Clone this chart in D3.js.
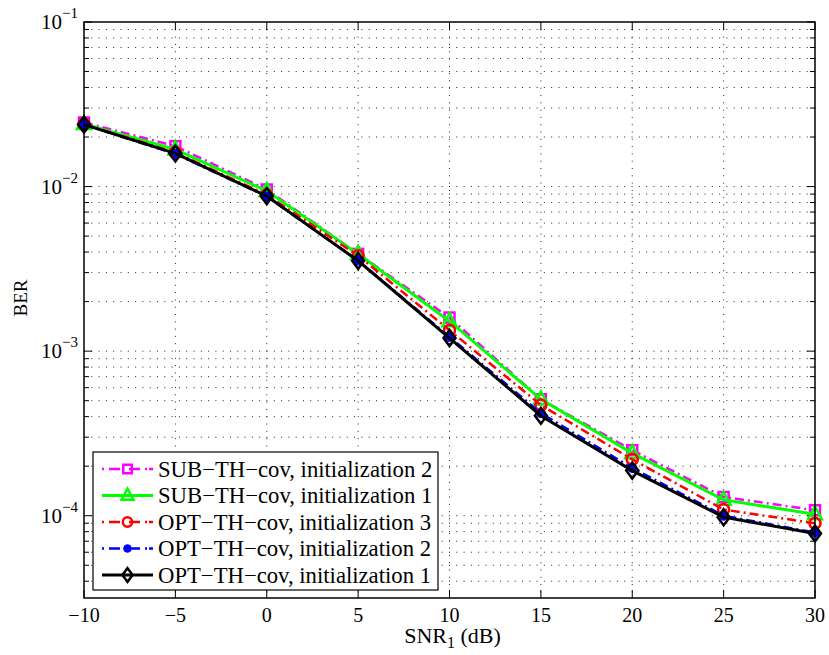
<!DOCTYPE html>
<html>
<head>
<meta charset="utf-8">
<script src="https://cdn.jsdelivr.net/npm/d3@7"></script>
<style>
  body { margin:0; background:#fff; }
  svg text { font-family: "Liberation Serif", "Times New Roman", serif; fill:#000; }
</style>
</head>
<body>
<div id="chart"></div>
<script>
// BER vs SNR1 - d3 log plot

var snr = [-10, -5, 0, 5, 10, 15, 20, 25, 30];
var xTicks = [-10, -5, 0, 5, 10, 15, 20, 25, 30];
var yMajor = [1e-1, 1e-2, 1e-3, 1e-4];

var subInit2 = [0.0245, 0.0176, 0.0096, 0.0039, 0.00160, 5.1e-4, 2.5e-4, 1.3e-4, 1.08e-4];
var subInit1 = [0.0240, 0.0168, 0.0094, 0.0039, 0.00152, 5.1e-4, 2.4e-4, 1.25e-4, 1.02e-4];
var optInit3 = [0.0240, 0.0161, 0.0089, 0.0038, 0.00134, 4.7e-4, 2.2e-4, 1.09e-4, 9.0e-5];
var optInit2 = [0.0238, 0.0158, 0.0087, 0.00355, 0.00122, 4.2e-4, 1.95e-4, 1.0e-4, 7.9e-5];
var optInit1 = [0.0238, 0.0159, 0.00875, 0.00354, 0.00120, 4.05e-4, 1.88e-4, 9.8e-5, 7.8e-5];

var seriesNames = ["SUB\u2212TH\u2212cov, initialization 2", "SUB\u2212TH\u2212cov, initialization 1",
  "OPT\u2212TH\u2212cov, initialization 3", "OPT\u2212TH\u2212cov, initialization 2",
  "OPT\u2212TH\u2212cov, initialization 1"];

var series = [
  {name: seriesNames[0], values: subInit2, color: "#ff00ff", dash: "9,4,2,4", width: 2.5, marker: "square"},
  {name: seriesNames[1], values: subInit1, color: "#00ff00", dash: null, width: 3, marker: "triangle"},
  {name: seriesNames[2], values: optInit3, color: "#ff0000", dash: "9,4,2,4", width: 2.5, marker: "circle"},
  {name: seriesNames[3], values: optInit2, color: "#0000ff", dash: "9,4,2,4", width: 2.5, marker: "dot"},
  {name: seriesNames[4], values: optInit1, color: "#000000", dash: null, width: 3, marker: "diamond"}
];

var W = 829, H = 655;
var margin = {top:22, left:84, right:14, bottom:57};
var pw = W - margin.left - margin.right;
var ph = H - margin.top - margin.bottom;

var x = d3.scaleLinear().domain([-10, 30]).range([0, pw]);
var y = d3.scaleLog().domain([Math.pow(10, -4.5), 1e-1]).range([ph, 0]);

var svg = d3.select("#chart").append("svg")
    .attr("width", W).attr("height", H);
var g = svg.append("g")
    .attr("transform", "translate(" + margin.left + "," + margin.top + ")");

// minor ticks for log axis
var yMinor = [];
[-5, -4, -3, -2].forEach(function(e){
  for (var k = 2; k <= 9; k++) {
    var v = k * Math.pow(10, e);
    if (v >= y.domain()[0] && v < 1e-1) yMinor.push(v);
  }
});

//grid
var grid = g.append("g").attr("stroke", "#222").attr("stroke-width", 1)
    .attr("stroke-dasharray", "1,6.3");
xTicks.slice(1, -1).forEach(function(t){
  grid.append("line").attr("x1", x(t)).attr("x2", x(t)).attr("y1", 0).attr("y2", ph);
});
yMajor.concat(yMinor).forEach(function(t){
  if (t >= 1e-1) return;
  grid.append("line").attr("x1", 0).attr("x2", pw).attr("y1", y(t)).attr("y2", y(t));
});

//ticks (inward, all sides)
var tk = g.append("g").attr("stroke", "#000").attr("stroke-width", 1);
xTicks.forEach(function(t){
  tk.append("line").attr("x1", x(t)).attr("x2", x(t)).attr("y1", ph).attr("y2", ph - 8);
  tk.append("line").attr("x1", x(t)).attr("x2", x(t)).attr("y1", 0).attr("y2", 8);
});
yMajor.forEach(function(t){
  tk.append("line").attr("x1", 0).attr("x2", 8).attr("y1", y(t)).attr("y2", y(t));
  tk.append("line").attr("x1", pw).attr("x2", pw - 8).attr("y1", y(t)).attr("y2", y(t));
});
yMinor.forEach(function(t){
  tk.append("line").attr("x1", 0).attr("x2", 5).attr("y1", y(t)).attr("y2", y(t));
  tk.append("line").attr("x1", pw).attr("x2", pw - 5).attr("y1", y(t)).attr("y2", y(t));
});

//tick labels
xTicks.forEach(function(t){
  g.append("text")
    .attr("x", x(t)).attr("y", ph + 24)
    .attr("text-anchor", "middle")
    .style("font-size", "20px")
    .text(t < 0 ? "\u2212" + Math.abs(t) : t);
});
yMajor.forEach(function(t){
  var e = Math.round(Math.log10(t));
  var tx = g.append("text")
    .attr("x", -6).attr("y", y(t) + 7)
    .attr("text-anchor", "end")
    .style("font-size", "21px");
  tx.append("tspan").text("10");
  tx.append("tspan").attr("dy", -11).style("font-size", "15px").text("\u2212" + Math.abs(e));
});

//axis labels
g.append("text")
  .attr("transform", "translate(" + (-57) + "," + (298 - margin.top) + ") rotate(-90)")
  .attr("text-anchor", "middle")
  .style("font-size", "19px")
  .text("BER");
var xl = g.append("text")
  .attr("x", pw / 2 + 3).attr("y", ph + 45)
  .attr("text-anchor", "middle")
  .style("font-size", "22px");
xl.append("tspan").text("SNR");
xl.append("tspan").attr("dy", 5).style("font-size", "16px").text("1");
xl.append("tspan").attr("dy", -5).text(" (dB)");

//markers
function drawMarker(sel, type, color, cx, cy, sc) {
  sc = sc || 1;
  if (type === "square") {
    sel.append("rect").attr("x", cx - 5 * sc).attr("y", cy - 5 * sc).attr("width", 10 * sc).attr("height", 10 * sc)
      .attr("fill", "none").attr("stroke", color).attr("stroke-width", 2.5);
  } else if (type === "triangle") {
    sel.append("path").attr("d", "M" + cx + "," + (cy - 8 * sc) + "L" + (cx + 7 * sc) + "," + (cy + 5 * sc) + "L" + (cx - 7 * sc) + "," + (cy + 5 * sc) + "Z")
      .attr("fill", "none").attr("stroke", color).attr("stroke-width", 2.5);
  } else if (type === "circle") {
    sel.append("circle").attr("cx", cx).attr("cy", cy).attr("r", 5.5 * sc)
      .attr("fill", "none").attr("stroke", color).attr("stroke-width", 2.5);
  } else if (type === "dot") {
    sel.append("circle").attr("cx", cx).attr("cy", cy).attr("r", 4.5 * sc)
      .attr("fill", color).attr("stroke", color).attr("stroke-width", 1);
  } else if (type === "diamond") {
    sel.append("path").attr("d", "M" + cx + "," + (cy - 8 * sc) + "L" + (cx + 6 * sc) + "," + cy + "L" + cx + "," + (cy + 8 * sc) + "L" + (cx - 6 * sc) + "," + cy + "Z")
      .attr("fill", "none").attr("stroke", color).attr("stroke-width", 2.5);
  }
}

var line = d3.line().x(function(d, i){ return x(snr[i]); }).y(function(d){ return y(d); });

series.forEach(function(s){
  var sg = g.append("g");
  sg.append("path").datum(s.values)
    .attr("d", line)
    .attr("fill", "none")
    .attr("stroke", s.color)
    .attr("stroke-width", s.width)
    .attr("stroke-dasharray", s.dash);
  s.values.forEach(function(v, i){
    drawMarker(sg, s.marker, s.color, x(snr[i]), y(v));
  });
});

//box
g.append("rect").attr("x", 0).attr("y", 0).attr("width", pw).attr("height", ph)
  .attr("fill", "none").attr("stroke", "#000").attr("stroke-width", 1.5);

//legend
var lg = g.append("g").attr("transform", "translate(" + (93 - margin.left) + "," + (452 - margin.top) + ")");
lg.append("rect").attr("width", 345).attr("height", 138)
  .attr("fill", "#fff").attr("stroke", "#000").attr("stroke-width", 1.2);
series.forEach(function(s, i){
  var ly = 17 + i * 26.5;
  lg.append("line").attr("x1", 9).attr("x2", 60).attr("y1", ly).attr("y2", ly)
    .attr("stroke", s.color).attr("stroke-width", s.width)
    .attr("stroke-dasharray", s.dash ? "2,5,11,9,11,5,2" : null);
  drawMarker(lg, s.marker, s.color, 34.5, ly, 0.85);
  lg.append("text").attr("x", 65).attr("y", ly + 7.5)
    .style("font-size", "22.7px")
    .text(s.name);
});
</script>
</body>
</html>
